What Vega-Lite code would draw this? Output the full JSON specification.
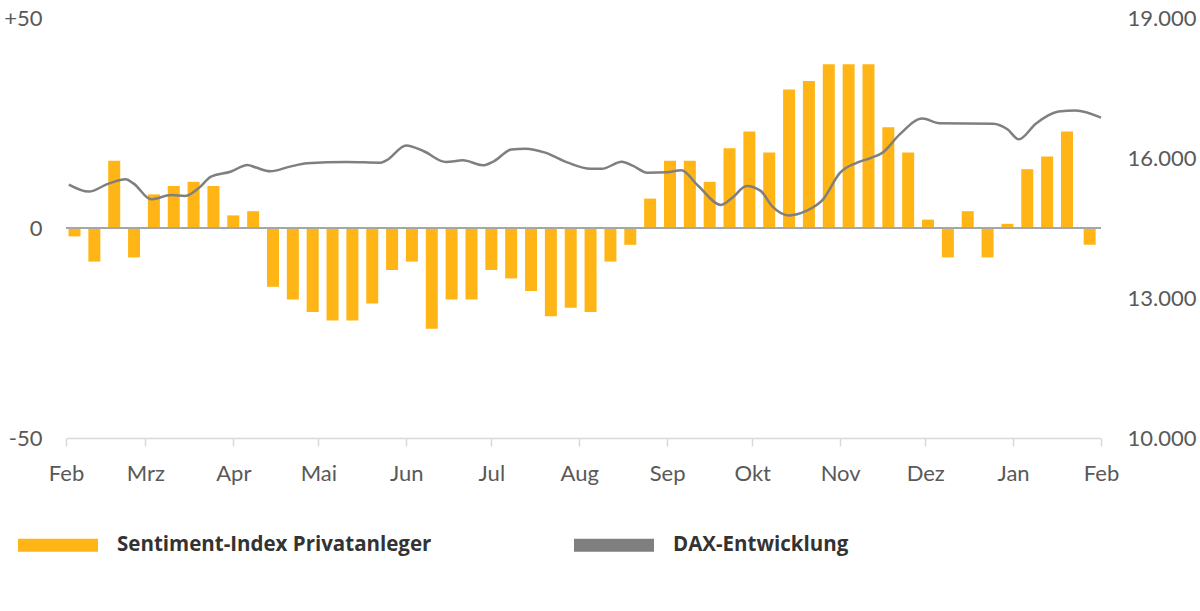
{
  "$schema": "https://vega.github.io/schema/vega-lite/v6.json",
  "width": 1035,
  "height": 420,
  "autosize": "none",
  "padding": {"left": 66, "top": 18, "right": 99, "bottom": 173},
  "background": "white",
  "config": {
    "view": {"stroke": null},
    "font": "Lato",
    "axis": {"labelFont": "Lato", "labelColor": "#595959", "labelFontSize": 22, "grid": false, "title": null}
  },
  "datasets": {
    "sentiment": [
      {"week": "2023-02-04", "index": -2},
      {"week": "2023-02-11", "index": -8},
      {"week": "2023-02-18", "index": 16},
      {"week": "2023-02-25", "index": -7},
      {"week": "2023-03-04", "index": 8},
      {"week": "2023-03-11", "index": 10},
      {"week": "2023-03-18", "index": 11},
      {"week": "2023-03-25", "index": 10},
      {"week": "2023-04-01", "index": 3},
      {"week": "2023-04-08", "index": 4},
      {"week": "2023-04-15", "index": -14},
      {"week": "2023-04-22", "index": -17},
      {"week": "2023-04-29", "index": -20},
      {"week": "2023-05-06", "index": -22},
      {"week": "2023-05-13", "index": -22},
      {"week": "2023-05-20", "index": -18},
      {"week": "2023-05-27", "index": -10},
      {"week": "2023-06-03", "index": -8},
      {"week": "2023-06-10", "index": -24},
      {"week": "2023-06-17", "index": -17},
      {"week": "2023-06-24", "index": -17},
      {"week": "2023-07-01", "index": -10},
      {"week": "2023-07-08", "index": -12},
      {"week": "2023-07-15", "index": -15},
      {"week": "2023-07-22", "index": -21},
      {"week": "2023-07-29", "index": -19},
      {"week": "2023-08-05", "index": -20},
      {"week": "2023-08-12", "index": -8},
      {"week": "2023-08-19", "index": -4},
      {"week": "2023-08-26", "index": 7},
      {"week": "2023-09-02", "index": 16},
      {"week": "2023-09-09", "index": 16},
      {"week": "2023-09-16", "index": 11},
      {"week": "2023-09-23", "index": 19},
      {"week": "2023-09-30", "index": 23},
      {"week": "2023-10-07", "index": 18},
      {"week": "2023-10-14", "index": 33},
      {"week": "2023-10-21", "index": 35},
      {"week": "2023-10-28", "index": 39},
      {"week": "2023-11-04", "index": 39},
      {"week": "2023-11-11", "index": 39},
      {"week": "2023-11-18", "index": 24},
      {"week": "2023-11-25", "index": 18},
      {"week": "2023-12-02", "index": 2},
      {"week": "2023-12-09", "index": -7},
      {"week": "2023-12-16", "index": 4},
      {"week": "2023-12-23", "index": -7},
      {"week": "2023-12-30", "index": 1},
      {"week": "2024-01-06", "index": 14},
      {"week": "2024-01-13", "index": 17},
      {"week": "2024-01-20", "index": 23},
      {"week": "2024-01-28", "index": -4}
    ],
    "dax": [
      {"date": "2023-02-02", "dax": 15430},
      {"date": "2023-02-09", "dax": 15280},
      {"date": "2023-02-16", "dax": 15450},
      {"date": "2023-02-22", "dax": 15545},
      {"date": "2023-02-25", "dax": 15445},
      {"date": "2023-03-03", "dax": 15115},
      {"date": "2023-03-10", "dax": 15205},
      {"date": "2023-03-15", "dax": 15185},
      {"date": "2023-03-20", "dax": 15365},
      {"date": "2023-03-24", "dax": 15595},
      {"date": "2023-03-31", "dax": 15705},
      {"date": "2023-04-06", "dax": 15850},
      {"date": "2023-04-09", "dax": 15795},
      {"date": "2023-04-14", "dax": 15715},
      {"date": "2023-04-21", "dax": 15815},
      {"date": "2023-04-27", "dax": 15885},
      {"date": "2023-05-11", "dax": 15915},
      {"date": "2023-05-23", "dax": 15900},
      {"date": "2023-05-25", "dax": 15950},
      {"date": "2023-06-01", "dax": 16270},
      {"date": "2023-06-07", "dax": 16150},
      {"date": "2023-06-15", "dax": 15915},
      {"date": "2023-06-21", "dax": 15950},
      {"date": "2023-06-28", "dax": 15845},
      {"date": "2023-07-02", "dax": 15935},
      {"date": "2023-07-08", "dax": 16180},
      {"date": "2023-07-13", "dax": 16200},
      {"date": "2023-07-20", "dax": 16115},
      {"date": "2023-07-28", "dax": 15900},
      {"date": "2023-08-05", "dax": 15770},
      {"date": "2023-08-09", "dax": 15770},
      {"date": "2023-08-16", "dax": 15920},
      {"date": "2023-08-20", "dax": 15830},
      {"date": "2023-08-25", "dax": 15685},
      {"date": "2023-09-01", "dax": 15695},
      {"date": "2023-09-06", "dax": 15735},
      {"date": "2023-09-12", "dax": 15400},
      {"date": "2023-09-20", "dax": 14995},
      {"date": "2023-09-24", "dax": 15150},
      {"date": "2023-09-29", "dax": 15400},
      {"date": "2023-10-04", "dax": 15295},
      {"date": "2023-10-08", "dax": 14970},
      {"date": "2023-10-14", "dax": 14770},
      {"date": "2023-10-20", "dax": 14865},
      {"date": "2023-10-26", "dax": 15115},
      {"date": "2023-11-01", "dax": 15685},
      {"date": "2023-11-07", "dax": 15900},
      {"date": "2023-11-12", "dax": 16005},
      {"date": "2023-11-16", "dax": 16115},
      {"date": "2023-11-22", "dax": 16505},
      {"date": "2023-11-30", "dax": 16845},
      {"date": "2023-12-06", "dax": 16745},
      {"date": "2023-12-25", "dax": 16735},
      {"date": "2023-12-30", "dax": 16615},
      {"date": "2024-01-03", "dax": 16400},
      {"date": "2024-01-09", "dax": 16735},
      {"date": "2024-01-17", "dax": 16995},
      {"date": "2024-01-23", "dax": 17020},
      {"date": "2024-02-01", "dax": 16865}
    ]
  },
  "resolve": {"scale": {"y": "independent"}},
  "layer": [
    {
      "data": {"name": "sentiment"},
      "layer": [
        {
          "mark": {"type": "bar", "size": 12},
          "encoding": {
            "x": {
              "field": "week",
              "type": "temporal",
              "scale": {
                "type": "utc",
                "padding": 0,
                "domain": [
                  {"year": 2023, "month": 2, "date": 1, "utc": true},
                  {"year": 2024, "month": 2, "date": 1, "utc": true}
                ]
              },
              "axis": {
                "orient": "bottom",
                "values": [
                  {"year": 2023, "month": 2, "date": 1, "utc": true},
                  {"year": 2023, "month": 3, "date": 1, "utc": true},
                  {"year": 2023, "month": 4, "date": 1, "utc": true},
                  {"year": 2023, "month": 5, "date": 1, "utc": true},
                  {"year": 2023, "month": 6, "date": 1, "utc": true},
                  {"year": 2023, "month": 7, "date": 1, "utc": true},
                  {"year": 2023, "month": 8, "date": 1, "utc": true},
                  {"year": 2023, "month": 9, "date": 1, "utc": true},
                  {"year": 2023, "month": 10, "date": 1, "utc": true},
                  {"year": 2023, "month": 11, "date": 1, "utc": true},
                  {"year": 2023, "month": 12, "date": 1, "utc": true},
                  {"year": 2024, "month": 1, "date": 1, "utc": true},
                  {"year": 2024, "month": 2, "date": 1, "utc": true}
                ],
                "labelExpr": "['Jan','Feb','Mrz','Apr','Mai','Jun','Jul','Aug','Sep','Okt','Nov','Dez'][utcmonth(datum.value)]",
                "labelFlush": false,
                "labelOverlap": false,
                "labelBaseline": "alphabetic",
                "labelPadding": 34,
                "domainColor": "#d9d9d9",
                "domainWidth": 1.5,
                "tickColor": "#d9d9d9",
                "tickWidth": 1.5,
                "tickSize": 8
              }
            },
            "y": {
              "field": "index",
              "type": "quantitative",
              "scale": {"domain": [-50, 50], "nice": false},
              "axis": {
                "orient": "left",
                "values": [-50, 0, 50],
                "labelExpr": "datum.value > 0 ? '+' + datum.value : '' + datum.value",
                "domain": false,
                "ticks": false,
                "labelPadding": 24
              }
            },
            "color": {
              "datum": "Sentiment-Index Privatanleger",
              "scale": {
                "domain": ["Sentiment-Index Privatanleger", "DAX-Entwicklung"],
                "range": ["#FFB515", "#7F7F7F"]
              },
              "legend": {
                "orient": "none",
                "legendX": -48,
                "legendY": 487,
                "direction": "horizontal",
                "title": null,
                "symbolType": "M-1,-0.1625H1V0.1625H-1Z",
                "symbolSize": 6400,
                "symbolStrokeWidth": 0,
                "labelFont": "Open Sans",
                "labelFontWeight": "bold",
                "labelFontSize": 20.5,
                "labelColor": "#333333",
                "labelOffset": 19,
                "labelLimit": 500,
                "columnPadding": 142,
                "encode": {
                  "symbols": {
                    "update": {
                      "fill": {"scale": "color", "field": "value"},
                      "stroke": {"value": "transparent"},
                      "opacity": {"value": 1}
                    }
                  }
                }
              }
            }
          }
        },
        {
          "mark": {"type": "rule", "color": "#a6a6a6", "strokeWidth": 2},
          "encoding": {"y": {"datum": 0}}
        }
      ]
    },
    {
      "data": {"name": "dax"},
      "mark": {"type": "line", "interpolate": "monotone", "strokeWidth": 2.5},
      "encoding": {
        "x": {"field": "date", "type": "temporal"},
        "y": {
          "field": "dax",
          "type": "quantitative",
          "scale": {"domain": [10000, 19000], "nice": false},
          "axis": {
            "orient": "right",
            "values": [10000, 13000, 16000, 19000],
            "labelExpr": "replace(format(datum.value, ','), ',', '.')",
            "domain": false,
            "ticks": false,
            "labelPadding": 26
          }
        },
        "color": {"datum": "DAX-Entwicklung"}
      }
    }
  ]
}
